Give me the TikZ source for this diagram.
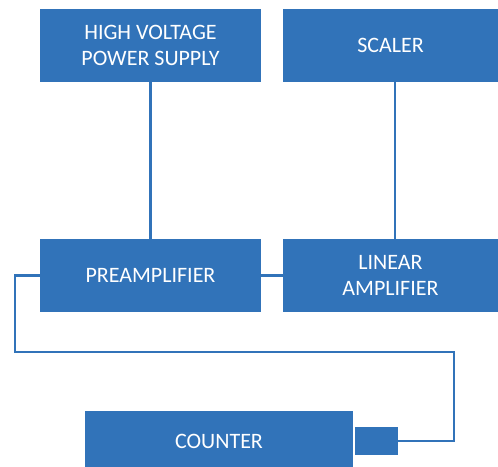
\documentclass[tikz,border=0pt]{standalone}
\usepackage{fontspec}
\setmainfont{Carlito}
\usetikzlibrary{positioning}
\definecolor{boxblue}{RGB}{49,115,185}
\tikzset{unit/.style={rectangle,fill=boxblue,text=white,align=center,inner sep=0pt,
    font=\fontsize{11}{12.8}\selectfont}}
\tikzset{wire/.style={draw=boxblue,line width=1.2pt}}

\begin{document}
\begin{tikzpicture}[x=0.5pt,y=-0.5pt]
  \useasboundingbox (0,0) rectangle (498,466);
  \node[unit,minimum width=110.5pt,minimum height=36.5pt] (hv)      at (150.5,45.5)  {HIGH VOLTAGE\\POWER SUPPLY};
  \node[unit,minimum width=107.5pt,minimum height=36.5pt] (scaler)  at (390.5,45.5)  {SCALER};
  \node[unit,minimum width=110.5pt,minimum height=36.5pt] (pre)     at (150.5,275.5) {PREAMPLIFIER};
  \node[unit,minimum width=107.5pt,minimum height=36.5pt] (lin)     at (390.5,275.5) {LINEAR\\AMPLIFIER};
  \node[unit,minimum width=134pt,minimum height=31pt]     (counter) at (219,441.5)   {COUNTER};
  \node[unit,minimum width=21.5pt,minimum height=14pt]    (plug)    at (376.5,441)   {};
  \coordinate (wl) at (15,352);
  \coordinate (wr) at (454,352);

  \path[wire] (hv) -- (pre)
    ([xshift=2.25pt]scaler.south) -- ([xshift=2.25pt]lin.north)
    (pre.east) -- (lin.west);
  \draw[wire] (pre.west) -| (wl) -- (wr) |- (plug.east);
\end{tikzpicture}
\end{document}
